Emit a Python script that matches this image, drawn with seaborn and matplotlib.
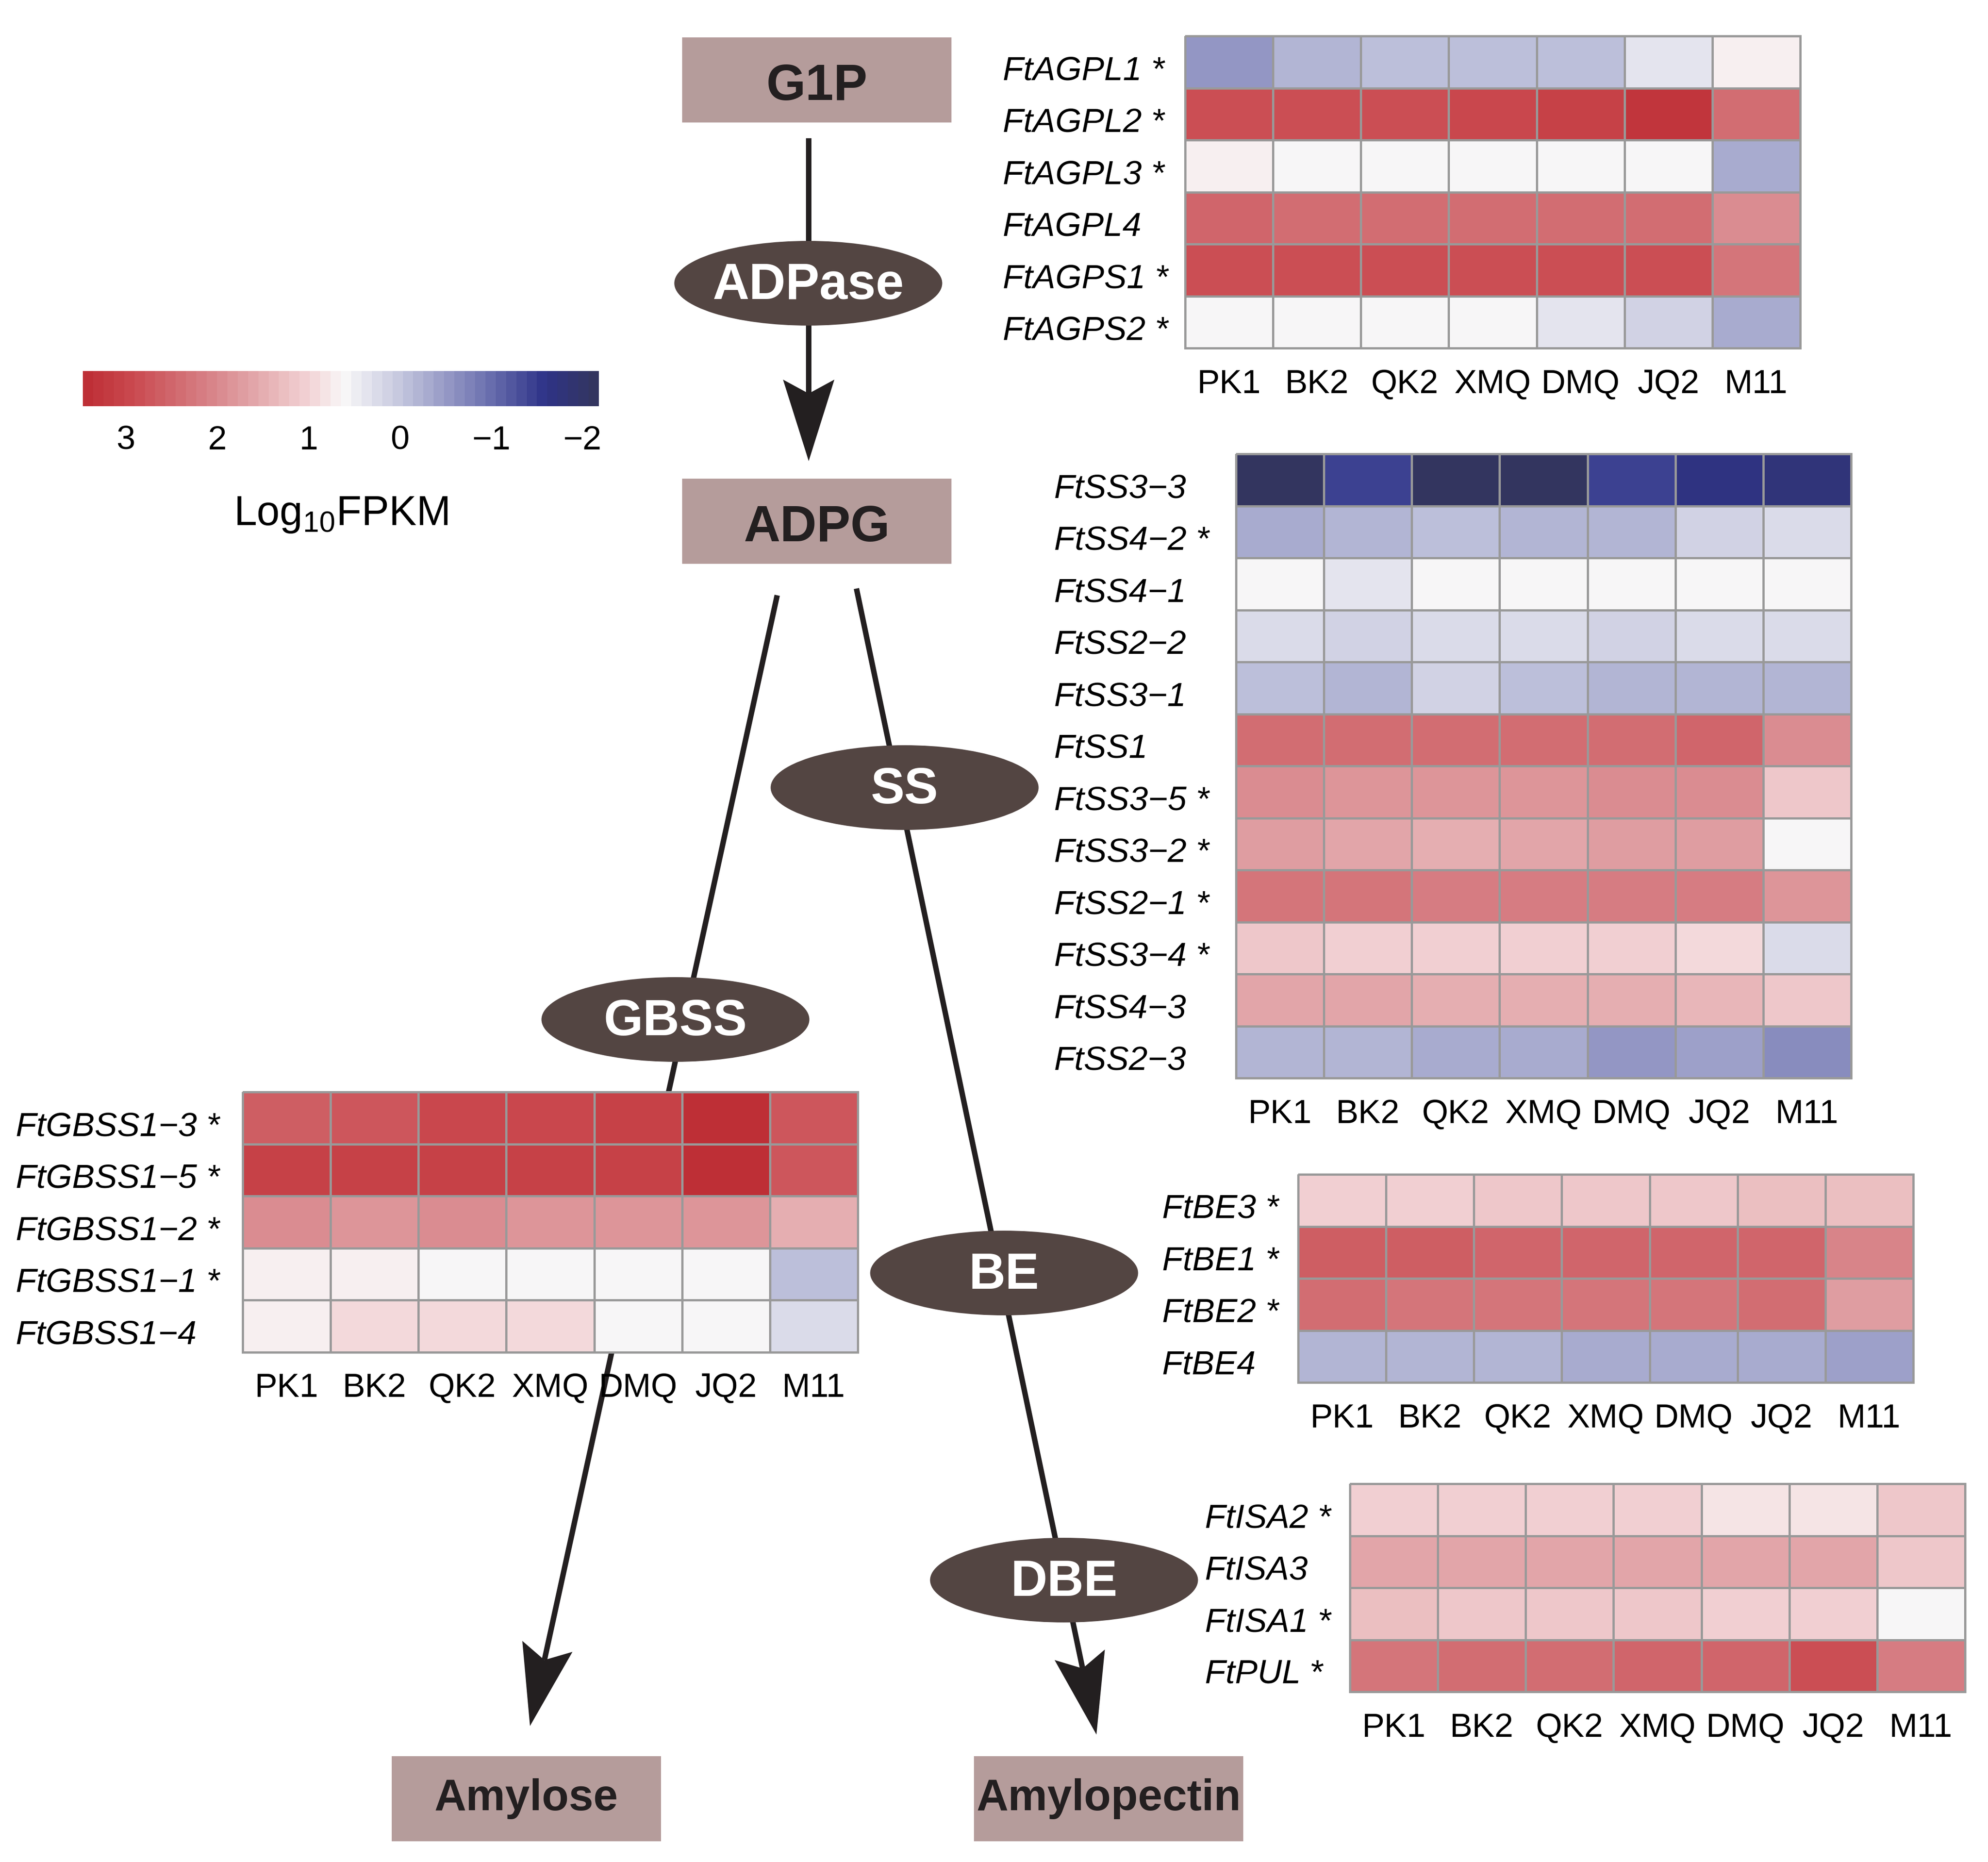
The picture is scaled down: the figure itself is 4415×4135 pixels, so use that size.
import numpy as np
import pandas as pd
import matplotlib
matplotlib.use("Agg")
import matplotlib.pyplot as plt
import seaborn as sns
from matplotlib import font_manager
from matplotlib.colors import LinearSegmentedColormap, Normalize
from matplotlib.cm import ScalarMappable
from matplotlib.patches import Ellipse, Rectangle, Polygon
from matplotlib.transforms import ScaledTranslation

# ---- data (log10 FPKM) ----
cultivars = ["PK1", "BK2", "QK2", "XMQ", "DMQ", "JQ2", "M11"]

agp_genes = ["FtAGPL1", "FtAGPL2", "FtAGPL3", "FtAGPL4", "FtAGPS1", "FtAGPS2"]
agp_sig = [1, 1, 1, 0, 1, 1]
agp_vals = [
    [-0.57, -0.18, -0.04, -0.05, -0.06, 0.39, 0.75],
    [2.80, 2.80, 2.80, 3.00, 3.05, 3.25, 2.40],
    [0.75, 0.63, 0.62, 0.56, 0.56, 0.55, -0.31],
    [2.52, 2.40, 2.42, 2.42, 2.43, 2.45, 2.00],
    [2.80, 2.80, 2.80, 2.80, 2.80, 2.87, 2.25],
    [0.56, 0.56, 0.56, 0.57, 0.39, 0.085, -0.30],
]

ss_genes = ["FtSS3\u22123", "FtSS4\u22122", "FtSS4\u22121", "FtSS2\u22122", "FtSS3\u22121", "FtSS1",
            "FtSS3\u22125", "FtSS3\u22122", "FtSS2\u22121", "FtSS3\u22124", "FtSS4\u22123", "FtSS2\u22123"]
ss_sig = [0, 1, 0, 0, 0, 0, 1, 1, 1, 1, 0, 0]
ss_vals = [
    [-2.10, -1.41, -2.10, -2.08, -1.40, -1.72, -1.73],
    [-0.30, -0.18, -0.05, -0.17, -0.16, 0.085, 0.22],
    [0.56, 0.39, 0.57, 0.56, 0.57, 0.63, 0.56],
    [0.22, 0.085, 0.22, 0.22, 0.09, 0.21, 0.21],
    [-0.04, -0.18, 0.085, -0.04, -0.18, -0.18, -0.17],
    [2.40, 2.40, 2.40, 2.40, 2.40, 2.47, 1.98],
    [1.95, 1.85, 1.85, 1.85, 1.95, 1.95, 1.10],
    [1.74, 1.62, 1.50, 1.62, 1.74, 1.74, 0.63],
    [2.30, 2.30, 2.16, 2.16, 2.16, 2.16, 1.78],
    [1.10, 1.00, 1.00, 1.00, 1.00, 0.89, 0.22],
    [1.62, 1.62, 1.50, 1.50, 1.50, 1.37, 1.10],
    [-0.18, -0.18, -0.30, -0.30, -0.52, -0.42, -0.62],
]

gbss_genes = ["FtGBSS1\u22123", "FtGBSS1\u22125", "FtGBSS1\u22122", "FtGBSS1\u22121", "FtGBSS1\u22124"]
gbss_sig = [1, 1, 1, 1, 0]
gbss_vals = [
    [2.57, 2.70, 2.93, 2.95, 3.10, 3.38, 2.72],
    [3.05, 3.05, 3.05, 3.08, 3.08, 3.38, 2.72],
    [1.95, 1.82, 1.93, 1.82, 1.82, 1.88, 1.53],
    [0.75, 0.75, 0.63, 0.63, 0.56, 0.56, -0.04],
    [0.75, 0.88, 0.88, 0.88, 0.63, 0.56, 0.22],
]

be_genes = ["FtBE3", "FtBE1", "FtBE2", "FtBE4"]
be_sig = [1, 1, 1, 0]
be_vals = [
    [1.00, 1.00, 1.10, 1.10, 1.10, 1.25, 1.25],
    [2.57, 2.57, 2.50, 2.50, 2.50, 2.48, 2.08],
    [2.40, 2.25, 2.25, 2.25, 2.25, 2.40, 1.70],
    [-0.18, -0.18, -0.18, -0.30, -0.30, -0.30, -0.42],
]

dbe_genes = ["FtISA2", "FtISA3", "FtISA1", "FtPUL"]
dbe_sig = [1, 0, 1, 1]
dbe_vals = [
    [1.00, 1.00, 1.00, 1.00, 0.87, 0.87, 1.13],
    [1.63, 1.63, 1.58, 1.63, 1.63, 1.63, 1.13],
    [1.24, 1.13, 1.13, 1.13, 1.00, 1.00, 0.56],
    [2.30, 2.40, 2.40, 2.48, 2.48, 2.80, 2.16],
]

cbar_ticks = [3, 2, 1, 0, -1, -2]

# ---- styling ----
W, H, DPI = 4415, 4135, 300
VMIN, VMAX = -2.18, 3.47
BOX_COLOR = "#B59C9B"
ELL_COLOR = "#534542"
LINE_COLOR = "#231F20"

anchors = [(-2.18, "#33355F"), (-1.63, "#2E3388"), (-1.0, "#6B70AF"), (0.0, "#C6C8DF"),
           (0.61, "#F9F8F8"), (1.0, "#F2D3D5"), (2.0, "#D98A8F"), (3.0, "#C9474D"), (3.47, "#BE2F36")]
cmap = LinearSegmentedColormap.from_list(
    "fpkm", [((v - VMIN) / (VMAX - VMIN), c) for v, c in anchors], N=50)

sns.set_style("white")
plt.rcParams["font.family"] = ["Liberation Sans", "DejaVu Sans"]
plt.rcParams["mathtext.fontset"] = "custom"
plt.rcParams["mathtext.rm"] = "Liberation Sans"
plt.rcParams["text.color"] = "black"
plt.rcParams["xtick.color"] = "black"
plt.rcParams["ytick.color"] = "black"

available = {f.name for f in font_manager.fontManager.ttflist}
narrow = "Liberation Sans Narrow" in available

fig = plt.figure(figsize=(W / DPI, H / DPI), dpi=DPI)

# background axes in pixel coordinates for the pathway drawing
bg = fig.add_axes([0, 0, 1, 1])
bg.set_xlim(0, W)
bg.set_ylim(H, 0)
bg.axis("off")


def arrow(x0, y0, x1, y1):
    d = np.array([x1 - x0, y1 - y0], dtype=float)
    u = d / np.hypot(*d)
    n = np.array([-u[1], u[0]])
    tip = np.array([x1, y1], dtype=float)
    back = tip - u * 181
    notch = tip - u * 150
    bg.plot([x0, notch[0]], [y0, notch[1]], color=LINE_COLOR, lw=2.9, solid_capstyle="butt", zorder=1)
    bg.add_patch(Polygon([tip, back + n * 57, notch, back - n * 57], closed=True,
                         fc=LINE_COLOR, ec="none", zorder=2))


arrow(1796, 307, 1796, 1024)
arrow(1726, 1322, 1177, 3833)
arrow(1902, 1307, 2435, 3852)

# metabolite boxes
boxes = [("G1P", 1515, 83), ("ADPG", 1515, 1063), ("Amylose", 870, 3900), ("Amylopectin", 2163, 3900)]
for name, bx, by in boxes:
    bg.add_patch(Rectangle((bx, by), 598, 189, fc=BOX_COLOR, ec="none", zorder=3))
    if name in ("Amylose", "Amylopectin"):
        fam = ["Liberation Sans Narrow", "Liberation Sans"] if narrow else ["Liberation Sans"]
        size = 27 if narrow else 23.5
        ty = by + 95
    else:
        fam, size = ["Liberation Sans"], 27
        ty = by + 110
    bg.text(bx + 299, ty, name, ha="center", va="center", fontsize=size,
            fontweight="bold", family=fam, color="#231F20", zorder=4)

# enzyme ellipses
enzymes = [("ADPase", 1795, 629), ("SS", 2009, 1749), ("GBSS", 1500, 2264),
           ("BE", 2230, 2827), ("DBE", 2363, 3509)]
for name, ex, ey in enzymes:
    bg.add_patch(Ellipse((ex, ey), 595, 188, fc=ELL_COLOR, ec="none", zorder=3))
    bg.text(ex, ey + 6, name, ha="center", va="center", fontsize=27, fontweight="bold",
            color="white", zorder=4)

label_shift = ScaledTranslation(0, -20 / DPI, fig.dpi_scale_trans)


def block(vals, genes, sig, left, top, pad_px):
    labels = [g + (" *" if s else "") for g, s in zip(genes, sig)]
    df = pd.DataFrame(vals, index=labels, columns=cultivars)
    w, h = 1366, 115.5 * len(genes)
    ax = fig.add_axes([left / W, 1 - (top + h) / H, w / W, h / H])
    sns.heatmap(df, ax=ax, cmap=cmap, vmin=VMIN, vmax=VMAX, cbar=False,
                linewidths=1.1, linecolor="#999999", xticklabels=True, yticklabels=True)
    ax.collections[0].set_clip_on(False)
    ax.tick_params(length=0, labelsize=18)
    ax.tick_params(axis="y", pad=pad_px * 72 / DPI)
    ax.tick_params(axis="x", pad=11)
    for t in ax.get_yticklabels():
        t.set_rotation(0)
        t.set_horizontalalignment("left")
        t.set_fontstyle("italic")
        t.set_transform(t.get_transform() + label_shift)
    for t in ax.get_xticklabels():
        t.set_rotation(0)
    ax.set_xlabel("")
    ax.set_ylabel("")
    return ax


block(agp_vals, agp_genes, agp_sig, 2632, 80, 405)
block(ss_vals, ss_genes, ss_sig, 2745, 1008, 404)
block(gbss_vals, gbss_genes, gbss_sig, 539, 2425, 504)
block(be_vals, be_genes, be_sig, 2883, 2608, 302)
block(dbe_vals, dbe_genes, dbe_sig, 2998, 3295, 322)

# colour key
cax = fig.add_axes([184 / W, 1 - 902 / H, (1330 - 184) / W, 78 / H])
cb = fig.colorbar(ScalarMappable(norm=Normalize(VMIN, VMAX), cmap=cmap), cax=cax,
                  orientation="horizontal", ticks=cbar_ticks)
cb.outline.set_visible(False)
cax.invert_xaxis()
cax.tick_params(length=0, labelsize=18, pad=10)
fig.text(757 / W, 1 - 1166 / H, r"Log$_{\mathregular{10}}$FPKM", ha="center", va="baseline",
         fontsize=22)

fig.savefig("out.png", dpi=DPI, facecolor="white")
